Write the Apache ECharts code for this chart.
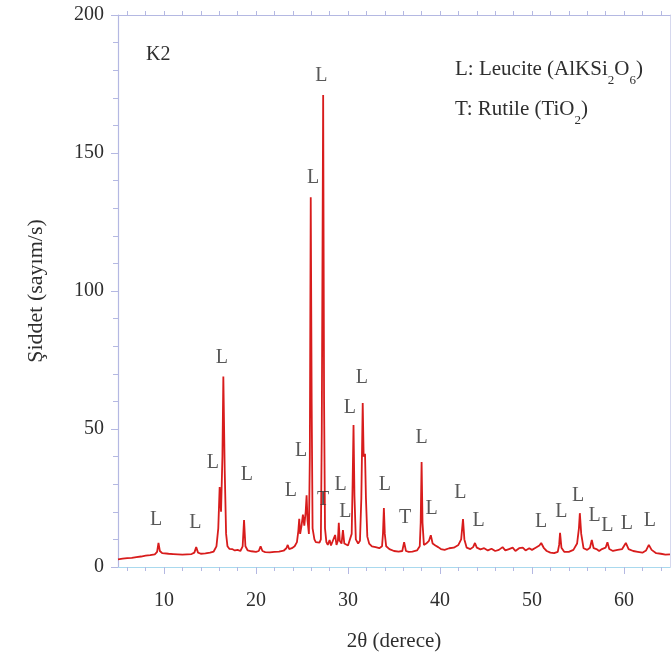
<!DOCTYPE html>
<html><head><meta charset="utf-8">
<script src="https://cdn.jsdelivr.net/npm/echarts@6/dist/echarts.min.js"></script>
<style>html,body{margin:0;padding:0;background:#fff}#c{width:671px;height:665px}</style>
</head><body><div id="c"></div>
<script>
// XRD profile: [2theta, intensity]
const profile = [
[5.0,2.8],[5.5,3.0],[6.0,3.2],[6.5,3.3],[7.0,3.6],[7.5,3.8],[8.0,4.1],[8.5,4.3],[9.0,4.6],[9.25,5.5],[9.4,8.7],[9.55,5.8],[9.8,5.0],
[10.5,4.8],[11.0,4.7],[11.5,4.6],[12.0,4.5],[12.5,4.6],[13.0,4.7],[13.3,5.2],[13.5,7.2],[13.7,5.2],[14.0,4.8],[14.5,4.9],[15.0,5.2],
[15.4,5.6],[15.7,7.5],[15.9,14],[16.05,29],[16.2,20],[16.35,40],[16.45,69],[16.6,35],[16.75,12],[16.9,7.5],[17.1,6.6],[17.4,6.5],
[17.7,6.0],[18.0,6.2],[18.3,5.8],[18.55,7.5],[18.7,17],[18.85,7.5],[19.1,6.0],[19.5,5.7],[20.0,5.5],[20.3,5.8],[20.5,7.5],[20.7,5.8],
[21.0,5.4],[21.5,5.3],[22.0,5.5],[22.5,5.6],[23.0,5.9],[23.3,6.8],[23.45,8],[23.6,6.5],[23.9,6.8],[24.2,7.5],[24.45,9],[24.6,13],
[24.7,17.5],[24.8,12],[24.95,15],[25.1,19],[25.25,15],[25.4,20],[25.5,26],[25.6,17],[25.75,12],[25.85,40],[25.95,134],[26.05,60],
[26.15,14],[26.35,10],[26.5,9],[26.7,8.5],[26.9,8.8],[27.05,10],[27.15,50],[27.3,171],[27.4,60],[27.5,14],[27.65,9],[27.8,8.0],
[28.0,9.8],[28.15,7.8],[28.3,7.5],[28.6,11.6],[28.75,8],[28.9,9.5],[29.0,16],[29.1,9.5],[29.3,8.5],[29.45,13.4],[29.6,8.5],[29.8,7.8],
[30.0,7.8],[30.2,8.5],[30.4,12],[30.5,30],[30.6,51.4],[30.7,26],[30.85,10],[31.1,8.5],[31.3,9.5],[31.45,25],[31.6,59.4],[31.7,40],
[31.85,41],[31.95,25],[32.1,11],[32.3,8.5],[32.6,7.5],[33.0,7.2],[33.4,6.8],[33.7,7.5],[33.8,12],[33.9,21.4],[34.0,12],[34.15,7.5],
[34.5,6.5],[35.0,5.8],[35.5,5.6],[35.9,5.8],[36.1,9],[36.3,5.8],[36.6,5.5],[37.0,5.6],[37.5,6.0],[37.8,7.5],[37.9,16],[38.0,38],
[38.1,16],[38.25,8],[38.5,8.5],[38.8,9.5],[39.0,11.5],[39.2,8.5],[39.5,7.8],[39.8,7.2],[40.1,6.5],[40.5,6.2],[41.0,6.8],[41.5,7.0],
[42.0,8.0],[42.3,10],[42.5,17.4],[42.65,10],[42.9,7.0],[43.3,6.5],[43.6,7.2],[43.8,8.7],[44.0,7.0],[44.4,6.4],[44.8,6.8],[45.2,6.0],
[45.6,6.6],[46.0,5.8],[46.4,6.2],[46.8,7.2],[47.1,6.0],[47.5,6.5],[47.9,7.0],[48.2,5.8],[48.6,6.8],[49.0,7.0],[49.3,6.0],[49.7,6.8],
[50.0,6.2],[50.4,7.0],[50.8,7.8],[51.0,8.7],[51.3,6.8],[51.6,5.8],[52.0,5.2],[52.4,5.0],[52.8,5.5],[52.95,8],[53.05,12.4],[53.2,7],
[53.5,5.5],[54.0,5.5],[54.5,6.2],[54.9,8.5],[55.1,14],[55.2,19.5],[55.35,12],[55.6,6.8],[56.0,6.2],[56.3,7.0],[56.5,9.8],[56.7,6.8],
[57.0,6.5],[57.3,5.8],[57.6,6.5],[58.0,7.0],[58.2,9],[58.4,6.5],[58.8,5.8],[59.3,6.2],[59.8,6.5],[60.2,8.7],[60.5,6.5],[61.0,5.8],
[61.5,5.5],[62.0,5.2],[62.4,6.0],[62.7,8],[63.0,6.2],[63.5,5.0],[64.0,4.8],[64.5,4.5],[65.0,4.6]
];
// peak annotations
const peakLabelX = [9.13,13.4,15.3,16.3,19.0,23.8,24.9,26.2,27.1,27.3,29.2,29.7,30.2,31.5,34.0,36.2,38.0,39.1,42.2,44.2,51.0,53.2,55.0,56.8,58.2,60.3,62.8];
const peakLabelY = [17.0,15.9,37.7,75.7,33.3,27.5,42,141,178,24.3,29.7,20,57.6,68.5,29.7,17.8,46.7,21,26.8,16.7,16.3,20,25.7,18.5,14.9,15.6,16.7];
const peakLabelText = ['L','L','L','L','L','L','L','L','L','T','L','L','L','L','L','T','L','L','L','L','L','L','L','L','L','L','L'];
const xMajorTicks = [10,20,30,40,50,60];
const xMinorTicks = [6,8,12,14,16,18,22,24,26,28,32,34,36,38,42,44,46,48,52,54,56,58,62,64];
const xTopTicks = [6,8,10,12,14,16,18,20,22,24,26,28,30,32,34,36,38,40,42,44,46,48,50,52,54,56,58,60,62,64];
// legend lines: [text, isSubscript]
const legendLine1 = [['L: Leucite (AlKSi', false], ['2', true], ['O', false], ['6', true], [')', false]];
const legendLine2 = [['T: Rutile (TiO', false], ['2', true], [')', false]];

const FONT = '"Liberation Serif","Times New Roman",serif';
const TXT = '#2e2e2e';
const AX = '#b4b8e2';
const MAIN_SIZE = 21, SUB_SIZE = 13;

const labelData = peakLabelX.map((x, i) => ({value: [x, peakLabelY[i]], name: peakLabelText[i]}));

// build legend text pieces with subscripts
const ctx = document.createElement('canvas').getContext('2d');
function legendPieces(parts, x0, top) {
  const out = [];
  let x = x0;
  parts.forEach(([t, sub]) => {
    const size = sub ? SUB_SIZE : MAIN_SIZE;
    const font = size + 'px ' + FONT;
    ctx.font = font;
    out.push({type: 'text', x: x, y: sub ? top + 15 : top, z: 10,
              style: {text: t, font: font, fill: TXT, textVerticalAlign: 'top', verticalAlign: 'top'}});
    x += ctx.measureText(t).width;
  });
  return out;
}
const graphics = [
  {type: 'text', x: 146, y: 45, style: {text: 'K2', font: '20px ' + FONT, fill: TXT, verticalAlign: 'top'}}
].concat(legendPieces(legendLine1, 455, 59), legendPieces(legendLine2, 455, 99));

const chart = echarts.init(document.getElementById('c'), null, {renderer: 'canvas'});
chart.setOption({
  animation: false,
  backgroundColor: '#fff',
  grid: {left: 118, right: 1, top: 15, bottom: 98, containLabel: false},
  xAxis: [
    {type: 'value', position: 'bottom', min: 5, max: 65,
     name: '2θ (derece)', nameLocation: 'middle', nameGap: 64,
     nameTextStyle: {fontFamily: FONT, fontSize: 21, color: TXT},
     axisLine: {show: true, lineStyle: {color: '#a9d9ee', width: 1.2}},
     axisTick: {show: true, length: 7, customValues: xMajorTicks, lineStyle: {color: AX}},
     axisLabel: {show: true, customValues: xMajorTicks, margin: 24, fontFamily: FONT, fontSize: 20, color: TXT},
     splitLine: {show: false}},
    {type: 'value', position: 'bottom', min: 5, max: 65,
     axisLine: {show: false},
     axisTick: {show: true, length: 4, customValues: xMinorTicks, lineStyle: {color: AX}},
     axisLabel: {show: false}, splitLine: {show: false}},
    {type: 'value', position: 'top', min: 5, max: 65,
     axisLine: {show: true, lineStyle: {color: AX, width: 1.2}},
     axisTick: {show: true, length: 4, customValues: xTopTicks, lineStyle: {color: AX}},
     axisLabel: {show: false}, splitLine: {show: false}}
  ],
  yAxis: [
    {type: 'value', position: 'left', min: 0, max: 200, interval: 50,
     name: 'Şiddet (sayım/s)', nameLocation: 'middle', nameGap: 71, nameRotate: 90,
     nameTextStyle: {fontFamily: FONT, fontSize: 22, color: TXT},
     axisLine: {show: true, lineStyle: {color: AX, width: 1.2}},
     axisTick: {show: true, length: 7, lineStyle: {color: AX}},
     minorTick: {show: true, splitNumber: 5, length: 5, lineStyle: {color: AX}},
     axisLabel: {margin: 14, fontFamily: FONT, fontSize: 20, color: TXT},
     splitLine: {show: false}},
    {type: 'value', position: 'right', min: 0, max: 200,
     axisLine: {show: true, lineStyle: {color: '#d6d8ee', width: 1}},
     axisTick: {show: false}, axisLabel: {show: false}, splitLine: {show: false}}
  ],
  series: [
    {type: 'line', data: profile, xAxisIndex: 0, yAxisIndex: 0,
     showSymbol: false, symbol: 'none', sampling: 'none',
     lineStyle: {color: '#d81c1c', width: 1.8}, z: 3},
    {type: 'scatter', data: labelData, xAxisIndex: 0, yAxisIndex: 0,
     symbolSize: 1, itemStyle: {color: 'rgba(0,0,0,0)'}, z: 4,
     label: {show: true, position: 'inside', formatter: p => p.name,
             fontFamily: FONT, fontSize: 20, color: TXT}}
  ],
  graphic: graphics
});
</script></body></html>
